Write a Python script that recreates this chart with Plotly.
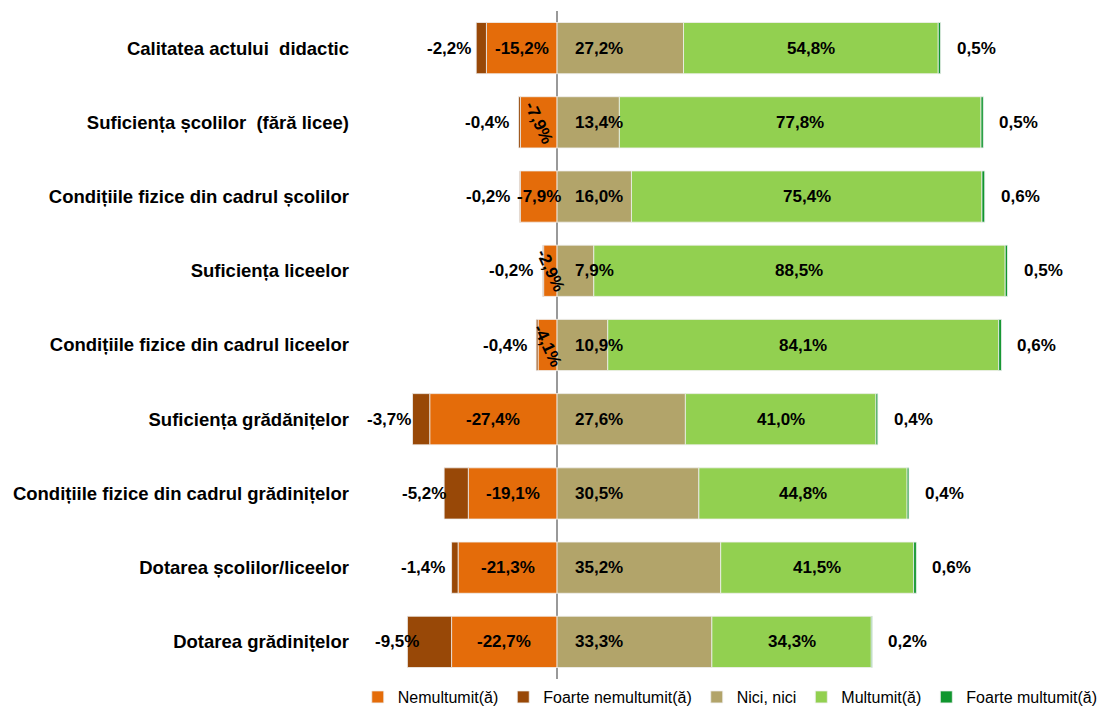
import plotly.graph_objects as go

categories = [
    "Calitatea actului  didactic",
    "Suficiența școlilor  (fără licee)",
    "Condițiile fizice din cadrul școlilor",
    "Suficiența liceelor",
    "Condițiile fizice din cadrul liceelor",
    "Suficiența grădănițelor",
    "Condițiile fizice din cadrul grădinițelor",
    "Dotarea școlilor/liceelor",
    "Dotarea grădinițelor",
]
nemultumit = [-15.2, -7.9, -7.9, -2.9, -4.1, -27.4, -19.1, -21.3, -22.7]
foarte_nemultumit = [-2.2, -0.4, -0.2, -0.2, -0.4, -3.7, -5.2, -1.4, -9.5]
nici = [27.2, 13.4, 16.0, 7.9, 10.9, 27.6, 30.5, 35.2, 33.3]
multumit = [54.8, 77.8, 75.4, 88.5, 84.1, 41.0, 44.8, 41.5, 34.3]
foarte_multumit = [0.5, 0.5, 0.6, 0.5, 0.6, 0.4, 0.4, 0.6, 0.2]
rotated_rows = {1, 3, 4}

C_N = "#E46C0A"
C_FN = "#984807"
C_NICI = "#B2A46A"
C_M = "#92D050"
C_FM = "#10962E"

FONT = "Liberation Sans, Arial, sans-serif"
LBL = dict(family=FONT, size=17, color="#000000")


def fmt(v):
    return f"{v:.1f}".replace(".", ",") + "%"


fig = go.Figure()
line = dict(color="#f0f0f0", width=0.8)
for name, vals, col in [
    ("Nemultumit(ă)", nemultumit, C_N),
    ("Foarte nemultumit(ă)", foarte_nemultumit, C_FN),
    ("Nici, nici", nici, C_NICI),
    ("Multumit(ă)", multumit, C_M),
    ("Foarte multumit(ă)", foarte_multumit, C_FM),
]:
    fig.add_trace(go.Bar(
        y=categories, x=vals, name=name, orientation="h",
        marker=dict(color=col, line=line), hoverinfo="x+name",
    ))

ann = []
for i, cat in enumerate(categories):
    n, fn, nc, m, fm = nemultumit[i], foarte_nemultumit[i], nici[i], multumit[i], foarte_multumit[i]
    ann.append(dict(x=n / 2, y=cat, text="<b>" + fmt(n) + "</b>", showarrow=False,
                    font=LBL, textangle=65 if i in rotated_rows else 0))
    ann.append(dict(x=n + fn / 2, y=cat, text="<b>" + fmt(fn) + "</b>", showarrow=False,
                    font=LBL, xshift=-32))
    ann.append(dict(x=0, y=cat, text="<b>" + fmt(nc) + "</b>", showarrow=False,
                    font=LBL, xanchor="left", xshift=16))
    ann.append(dict(x=nc + m / 2, y=cat, text="<b>" + fmt(m) + "</b>", showarrow=False,
                    font=LBL))
    ann.append(dict(x=nc + m + fm, y=cat, text="<b>" + fmt(fm) + "</b>", showarrow=False,
                    font=LBL, xanchor="left", xshift=14))

fig.update_layout(
    width=1098, height=723,
    barmode="relative", bargap=0.31,
    paper_bgcolor="white", plot_bgcolor="white",
    margin=dict(l=352, r=6, t=3, b=52),
    font=dict(family=FONT, color="#000000"),
    annotations=ann,
    showlegend=True,
    legend=dict(orientation="h", x=-0.003, xanchor="left", y=-0.027, yanchor="middle",
                font=dict(family=FONT, size=16, color="#000000"),
                itemwidth=30, traceorder="normal"),
)
fig.update_xaxes(range=[-42.4, 116.8], showticklabels=False, showgrid=False,
                 zeroline=True, zerolinecolor="#999999", zerolinewidth=2, fixedrange=True,
                 automargin=False)
fig.update_yaxes(autorange="reversed", showgrid=False, ticks="", ticklabelstandoff=10,
                 tickfont=dict(family=FONT, size=18.5, color="#000000", weight="bold"),
                 fixedrange=True, automargin=False)

fig.write_html("out.html")
